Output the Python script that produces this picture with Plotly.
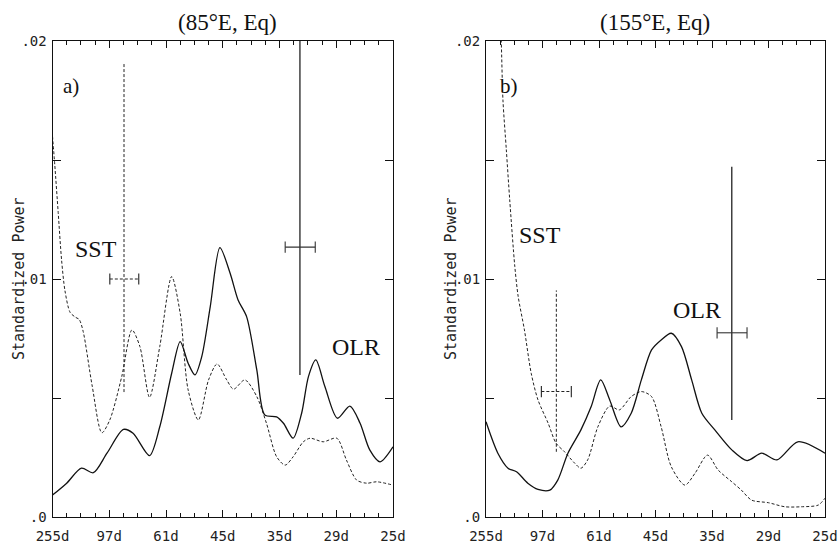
import plotly.graph_objects as go

# ---------------- data ----------------
tick_labels = ["255d", "97d", "61d", "45d", "35d", "29d", "25d"]
tick_pos = [0, 1, 2, 3, 4, 5, 6]

# Panel a (85E, Eq)
a_sst_x = [0.0, 0.04, 0.10, 0.16, 0.22, 0.31, 0.40, 0.47, 0.54, 0.70, 0.87, 1.01, 1.22, 1.40, 1.54,
           1.71, 1.89, 2.10, 2.25, 2.39, 2.57, 2.75, 2.90, 3.07, 3.19, 3.39, 3.60, 3.77, 3.95,
           4.10, 4.24, 4.42, 4.54, 4.77, 5.01, 5.18, 5.36, 5.54, 5.71, 6.0]
a_sst_y = [0.0160, 0.0148, 0.0128, 0.0108, 0.0095, 0.0086, 0.0084, 0.0083, 0.0078, 0.0055, 0.00354,
           0.00408, 0.0059, 0.00786, 0.00716, 0.00503, 0.00716, 0.0101, 0.00856, 0.00534,
           0.00408, 0.00576, 0.00643, 0.00576, 0.00537, 0.00576, 0.00506, 0.00394, 0.00253,
           0.00218, 0.00253, 0.00316, 0.00331, 0.00316, 0.00331, 0.00239, 0.00155, 0.00142,
           0.00148, 0.00134]

a_olr_x = [0.0, 0.25, 0.51, 0.72, 0.96, 1.25, 1.42, 1.71, 1.89, 2.10, 2.25, 2.39, 2.51, 2.63,
           2.78, 2.95, 3.13, 3.27, 3.42, 3.60, 3.74, 3.95, 4.07, 4.24, 4.39, 4.51, 4.64, 4.80,
           5.02, 5.24, 5.42, 5.59, 5.77, 6.0]
a_olr_y = [0.00092, 0.00142, 0.00205, 0.00186, 0.00268, 0.00368, 0.00352, 0.00258, 0.00379,
           0.00604, 0.00737, 0.00646, 0.00597, 0.00674, 0.00884, 0.01132, 0.01024, 0.00912,
           0.00842, 0.00618, 0.00429, 0.00421, 0.00394, 0.00331, 0.00436, 0.0059, 0.0066,
           0.00548, 0.00415, 0.00466, 0.00394, 0.00282, 0.00232, 0.00295]

# Panel b (155E, Eq)
b_sst_x = [0.22, 0.27, 0.30, 0.36, 0.42, 0.51, 0.57, 0.68, 0.80, 0.92, 1.10, 1.24, 1.39, 1.57,
           1.68, 1.80, 1.98, 2.19, 2.36, 2.57, 2.75, 2.93, 3.10, 3.28, 3.52, 3.70, 3.92, 4.11,
           4.35, 4.52, 4.70, 5.0, 5.29, 5.58, 5.88, 6.0]
b_sst_y = [0.0230, 0.0200, 0.01752, 0.01542, 0.01332, 0.01052, 0.00926, 0.00786, 0.00604,
           0.00492, 0.00394, 0.0031, 0.00274, 0.00226, 0.00205, 0.0024, 0.00379, 0.00466,
           0.0045, 0.00506, 0.00527, 0.00506, 0.00379, 0.00211, 0.00134, 0.00184, 0.0026,
           0.00197, 0.00148, 0.00113, 0.00071, 0.0006, 0.00043, 0.00043, 0.0005, 0.00079]

b_olr_x = [0.0, 0.21, 0.39, 0.54, 0.74, 0.92, 1.13, 1.27, 1.45, 1.68, 1.86, 2.03, 2.19, 2.39,
           2.57, 2.75, 2.93, 3.10, 3.28, 3.46, 3.64, 3.82, 4.05, 4.35, 4.62, 4.88, 5.15, 5.52, 6.0]
b_olr_y = [0.0040, 0.00268, 0.00205, 0.0019, 0.00142, 0.00116, 0.00113, 0.00155, 0.00268,
           0.00366, 0.00463, 0.00576, 0.00492, 0.00379, 0.00436, 0.00576, 0.00702, 0.00744,
           0.00772, 0.00716, 0.00576, 0.00436, 0.00366, 0.00282, 0.00237, 0.00268, 0.0024,
           0.00316, 0.00268]

# significance / bandwidth crosses: (x centre, y low, y high, y of bar, x left, x right)
a_sst_err = (1.26, 0.00525, 0.0191, 0.0100, 1.01, 1.52)
a_olr_err = (4.36, 0.00597, 0.0200, 0.01134, 4.10, 4.63)
b_sst_err = (1.245, 0.00274, 0.00952, 0.00527, 0.98, 1.51)
b_olr_err = (4.35, 0.00408, 0.01472, 0.00774, 4.09, 4.62)

titles = ["(85°E, Eq)", "(155°E, Eq)"]
y_title = "Standardized Power"

# ---------------- figure ----------------
W, H = 838, 546
fig = go.Figure()

dom_a = [52.5 / W, 393 / W]
dom_b = [486 / W, 825 / W]
ydom = [1 - 517 / H, 1 - 41 / H]

DOT = "3px,2px"

def add_panel(xref, yref, sst_x, sst_y, olr_x, olr_y, sst_err, olr_err):
    fig.add_trace(go.Scatter(x=sst_x, y=sst_y, mode="lines", xaxis=xref, yaxis=yref,
                             line=dict(color="#222", width=1, dash=DOT, shape="spline", smoothing=0.8),
                             showlegend=False, hoverinfo="skip"))
    fig.add_trace(go.Scatter(x=olr_x, y=olr_y, mode="lines", xaxis=xref, yaxis=yref,
                             line=dict(color="#111", width=1.3, shape="spline", smoothing=0.8),
                             showlegend=False, hoverinfo="skip"))
    for err, dash, w, col in [(sst_err, DOT, 1, "#222"), (olr_err, "solid", 1.4, "#333")]:
        xc, ylo, yhi, yb, xl, xr = err
        fig.add_trace(go.Scatter(x=[xc, xc], y=[ylo, yhi], mode="lines", xaxis=xref, yaxis=yref,
                                 line=dict(color=col, width=w, dash=dash),
                                 showlegend=False, hoverinfo="skip"))
        fig.add_trace(go.Scatter(x=[xl, xr], y=[yb, yb], mode="lines+markers", xaxis=xref, yaxis=yref,
                                 line=dict(color=col, width=1.1, dash=dash),
                                 marker=dict(symbol="line-ns", size=8, line=dict(width=1.1, color=col)),
                                 showlegend=False, hoverinfo="skip"))

add_panel("x", "y", a_sst_x, a_sst_y, a_olr_x, a_olr_y, a_sst_err, a_olr_err)
add_panel("x2", "y2", b_sst_x, b_sst_y, b_olr_x, b_olr_y, b_sst_err, b_olr_err)

xaxis_common = dict(range=[0, 6], tickvals=tick_pos, ticktext=tick_labels, ticks="inside",
                    ticklen=7, tickcolor="#111", showline=True, linecolor="#111", linewidth=1,
                    mirror="allticks", showgrid=False, zeroline=False,
                    tickfont=dict(family="DejaVu Sans Mono", size=14, color="#222"),
                    ticklabelstandoff=6, automargin=False,
                    minor=dict(dtick=0.25, tick0=0, ticks="inside", ticklen=4, tickcolor="#111",
                               showgrid=False))
yaxis_common = dict(range=[0, 0.02], tickvals=[0, 0.005, 0.01, 0.015, 0.02],
                    ticktext=[".0", "", ".01", "", ".02"], ticks="inside", ticklen=8,
                    tickcolor="#111", showline=True, linecolor="#111", linewidth=1,
                    mirror="allticks", showgrid=False, zeroline=False,
                    tickfont=dict(family="DejaVu Sans Mono", size=14, color="#222"),
                    ticklabelstandoff=2, automargin=False)

fig.update_layout(
    width=W, height=H,
    margin=dict(l=0, r=0, t=0, b=0),
    paper_bgcolor="white", plot_bgcolor="white",
    xaxis=dict(domain=dom_a, anchor="y", **xaxis_common),
    yaxis=dict(domain=ydom, anchor="x", **yaxis_common),
    xaxis2=dict(domain=dom_b, anchor="y2", **xaxis_common),
    yaxis2=dict(domain=ydom, anchor="x2", **yaxis_common),
)

serif = "Liberation Serif"
ann = []

def add_text(t, px, py, font, angle=0):
    ann.append(dict(text=t, x=px / W, y=1 - py / H, xref="paper", yref="paper",
                    xanchor="center", yanchor="middle", showarrow=False,
                    textangle=angle, font=font))

# titles
add_text(titles[0], 227, 23, dict(family=serif, size=23, color="#111"))
add_text(titles[1], 655, 23, dict(family=serif, size=23, color="#111"))
# y titles
for xc in [19, 451]:
    add_text(y_title, xc, 279, dict(family="DejaVu Sans Mono", size=15, color="#222"), angle=-90)
# panel labels
labels = [("a)", 71, 86, 21), ("SST", 96, 249, 24), ("OLR", 356, 347, 24),
          ("b)", 509, 86, 21), ("SST", 540, 235, 24), ("OLR", 697, 310, 24)]
for t, px, py, s in labels:
    add_text(t, px, py, dict(family=serif, size=s, color="#111"))
fig.update_layout(annotations=ann)

fig.write_html("out.html")
